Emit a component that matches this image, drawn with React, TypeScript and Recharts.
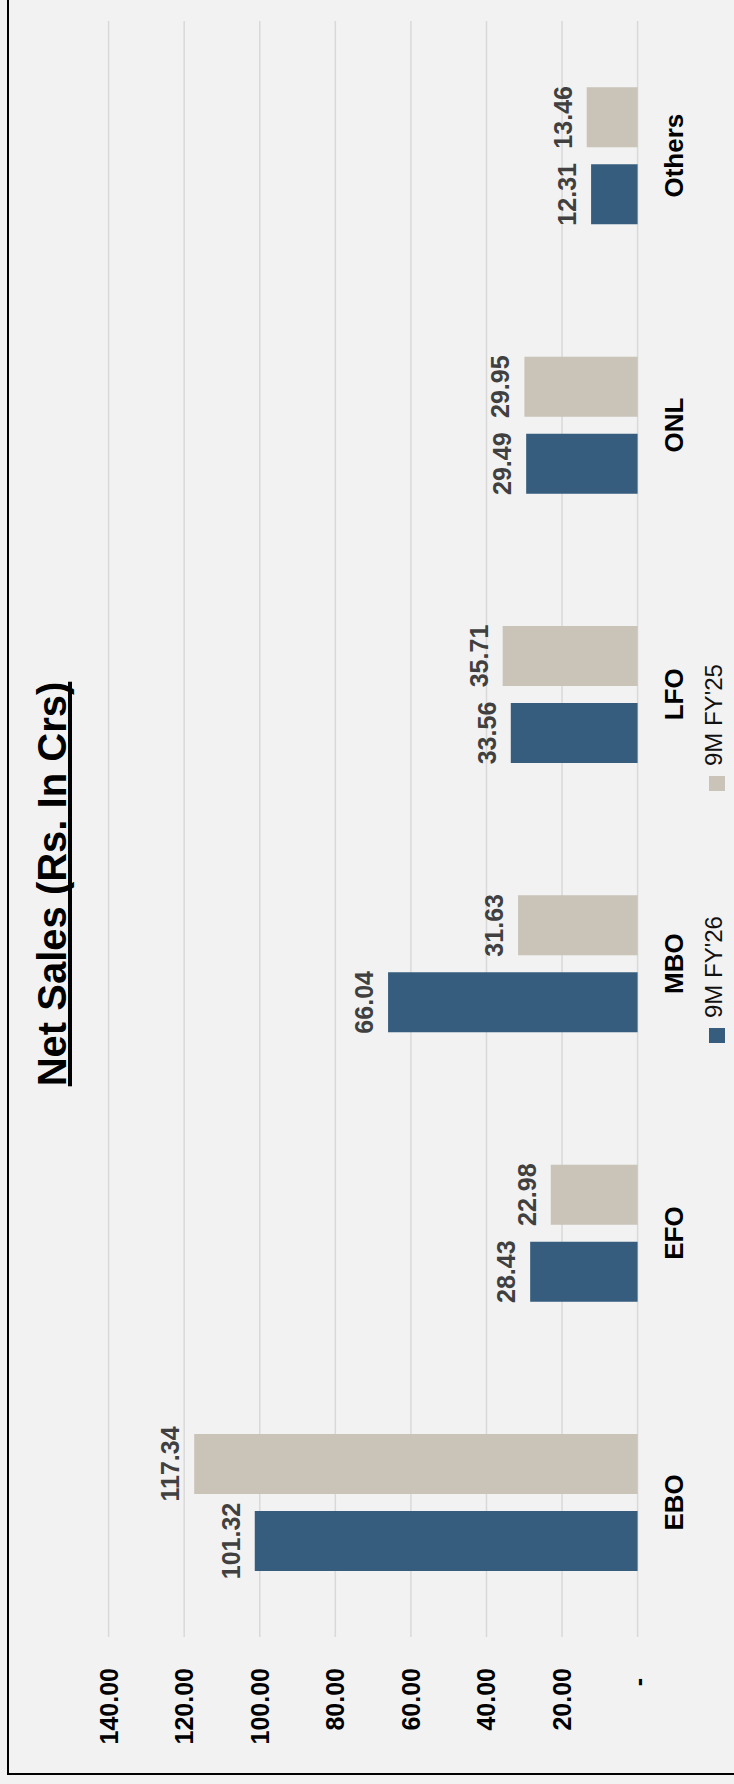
import React from 'react';
import { BarChart, Bar, XAxis, YAxis, CartesianGrid, LabelList, Legend } from 'recharts';

// channel-wise net sales, Rs. in Crs
const categories = ['EBO', 'EFO', 'MBO', 'LFO', 'ONL', 'Others'];
const fy26Values = [101.32, 28.43, 66.04, 33.56, 29.49, 12.31];
const fy25Values = [117.34, 22.98, 31.63, 35.71, 29.95, 13.46];
const valueTicks = [0, 20, 40, 60, 80, 100, 120, 140];
const seriesNames = ["9M FY'26", "9M FY'25"];

const FONT = '"Liberation Sans", Arial, Helvetica, sans-serif';
const BLUE = '#365D7E';
const BEIGE = '#C9C3B8';

const data = categories.map((c, i) => ({
  category: c,
  fy26: fy26Values[i],
  fy25: fy25Values[i],
}));

// chart is laid out landscape, then turned -90deg to fit the portrait page
const W = 1784;
const H = 734;

const ValueTick = ({ x, y, payload }: any) => {
  const isZero = payload.value === 0;
  return (
    <text
      x={isZero ? x - 10 : x}
      y={y}
      textAnchor="end"
      dominantBaseline="central"
      fontFamily={FONT}
      fontSize={25}
      fontWeight={700}
      fill="#000"
    >
      {isZero ? '-' : payload.value.toFixed(2)}
    </text>
  );
};

const CategoryTick = ({ x, y, payload }: any) => (
  <text
    x={x}
    y={y}
    dy="0.71em"
    textAnchor="middle"
    fontFamily={FONT}
    fontSize={26}
    fontWeight={700}
    fill="#000"
  >
    {payload.value}
  </text>
);

const ValueLabel = (props: any) => {
  const { x, y, width, value } = props;
  return (
    <text
      x={x + width / 2}
      y={y - 15}
      textAnchor="middle"
      fontFamily={FONT}
      fontSize={25}
      fontWeight={700}
      fill="#404040"
    >
      {Number(value).toFixed(2)}
    </text>
  );
};

// keep legend in series order (FY'26 first)
const renderLegend = ({ payload }: any) => {
  const items = [...(payload || [])].sort(
    (a: any, b: any) => seriesNames.indexOf(a.value) - seriesNames.indexOf(b.value)
  );
  return (
    <div style={{ display: 'flex', alignItems: 'center', fontFamily: FONT, fontSize: 24, lineHeight: '24px', color: '#111' }}>
      {items.map((entry: any, i: number) => (
        <div key={`lg-${i}`} style={{ display: 'flex', alignItems: 'center', marginRight: i === 0 ? 125 : 0 }}>
          <span style={{ display: 'inline-block', width: 15, height: 16, background: entry.color, marginRight: 10, position: 'relative', top: 3 }} />
          <span style={{ whiteSpace: 'nowrap' }}>{entry.value}</span>
        </div>
      ))}
    </div>
  );
};

export default function App() {
  return (
    <div style={{ position: 'absolute', left: 0, top: 0, width: 734, height: 1784, background: '#F2F2F2', overflow: 'hidden' }}>
      <div
        style={{
          position: 'absolute',
          left: 0,
          top: 0,
          width: W,
          height: H,
          transformOrigin: '0 0',
          transform: `translate(0px, ${W}px) rotate(-90deg)`,
        }}
      >
        <div
          style={{
            position: 'absolute',
            left: 0,
            top: 32,
            width: 1800,
            textAlign: 'center',
            fontFamily: FONT,
            fontSize: 40,
            lineHeight: '40px',
            fontWeight: 700,
            textDecoration: 'underline',
            textDecorationSkipInk: 'none',
            color: '#000',
          }}
        >
          Net Sales (Rs. In Crs)
        </div>
        <BarChart
          width={W}
          height={H}
          data={data}
          margin={{ top: 108.6, right: 21, bottom: 36.4, left: 47 }}
          barSize={60}
          barGap={17}
        >
          <CartesianGrid horizontal vertical={false} stroke="#D9D9D9" strokeWidth={1.5} />
          <XAxis
            dataKey="category"
            height={60}
            axisLine={false}
            tickLine={false}
            tickSize={0}
            tickMargin={27}
            tick={<CategoryTick />}
            interval={0}
          />
          <YAxis
            width={100}
            domain={[0, 140]}
            ticks={valueTicks}
            axisLine={false}
            tickLine={false}
            tickSize={0}
            tickMargin={31}
            tick={<ValueTick />}
          />
          <Legend
            layout="horizontal"
            verticalAlign="middle"
            align="center"
            wrapperStyle={{ left: 741, top: 702, width: 'auto' }}
            content={renderLegend}
          />
          <Bar dataKey="fy26" name={seriesNames[0]} fill={BLUE} isAnimationActive={false}>
            <LabelList dataKey="fy26" content={<ValueLabel />} />
          </Bar>
          <Bar dataKey="fy25" name={seriesNames[1]} fill={BEIGE} isAnimationActive={false}>
            <LabelList dataKey="fy25" content={<ValueLabel />} />
          </Bar>
        </BarChart>
      </div>
      <div
        style={{
          position: 'absolute',
          left: 7,
          top: -5,
          width: 740,
          height: 1780,
          boxSizing: 'border-box',
          borderLeft: '2px solid #000',
          borderBottom: '2px solid #000',
          pointerEvents: 'none',
        }}
      />
    </div>
  );
}
